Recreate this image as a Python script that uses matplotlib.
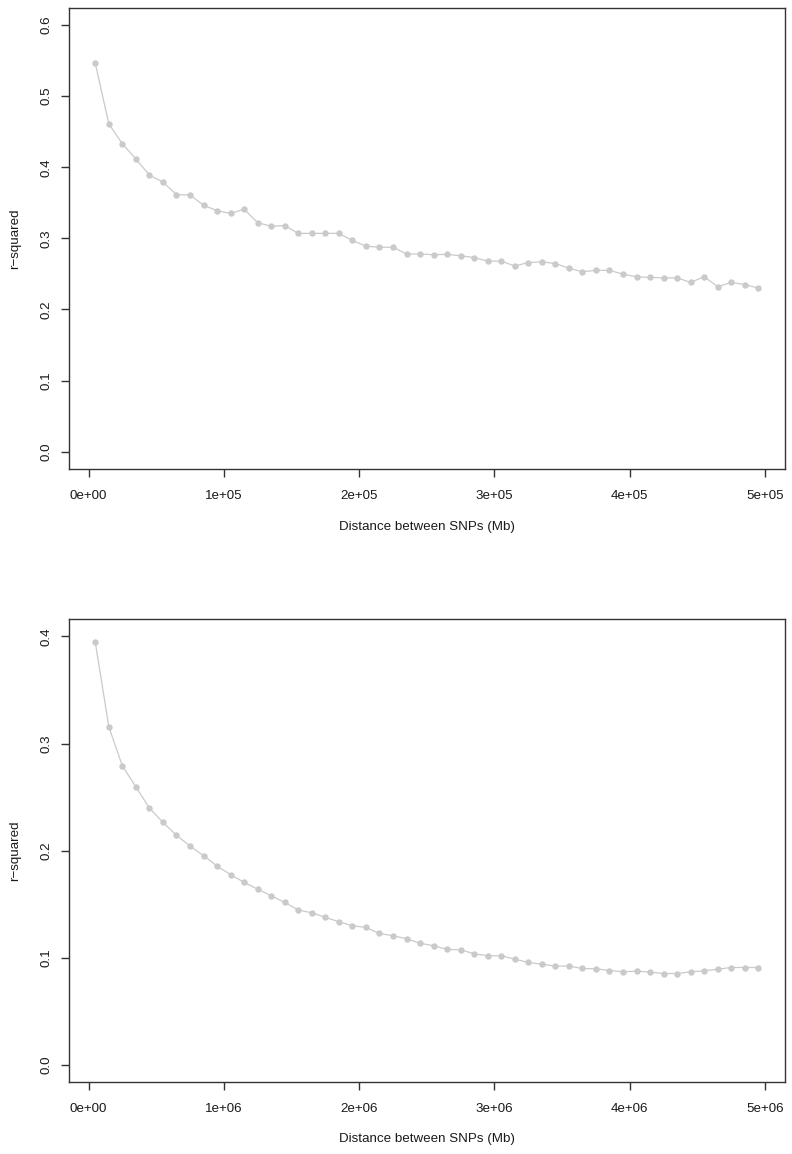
import matplotlib
matplotlib.use("Agg")
import matplotlib.pyplot as plt
import numpy as np

plt.rcParams['font.family'] = ['Liberation Sans', 'DejaVu Sans']

# ---- data ----
dist_top = [5000 + 10000 * i for i in range(50)]
r2_top = [0.546, 0.461, 0.433, 0.4115, 0.389, 0.379, 0.3615, 0.361, 0.3465, 0.339,
          0.335, 0.341, 0.322, 0.317, 0.318, 0.307, 0.307, 0.307, 0.307, 0.297,
          0.289, 0.2875, 0.2875, 0.278, 0.278, 0.277, 0.2775, 0.2755, 0.273, 0.268,
          0.268, 0.261, 0.266, 0.267, 0.2646, 0.258, 0.253, 0.255, 0.255, 0.2496,
          0.246, 0.245, 0.2444, 0.2444, 0.238, 0.246, 0.232, 0.238, 0.235, 0.230]

dist_bot = [50000 + 100000 * i for i in range(50)]
r2_bot = [0.3944, 0.3155, 0.2791, 0.2595, 0.2398, 0.2264, 0.2143, 0.2043, 0.1953, 0.1856,
          0.1776, 0.1704, 0.1640, 0.1579, 0.1517, 0.1445, 0.1420, 0.1377, 0.1336, 0.1299,
          0.1283, 0.1227, 0.1205, 0.1178, 0.1136, 0.1112, 0.1078, 0.1075, 0.1037, 0.1019,
          0.1019, 0.0987, 0.0956, 0.0940, 0.0922, 0.0922, 0.0900, 0.0897, 0.0881, 0.0869,
          0.0875, 0.0866, 0.0853, 0.0853, 0.0869, 0.0878, 0.0893, 0.0909, 0.0909, 0.0909]

xticks_top = [0, 100000, 200000, 300000, 400000, 500000]
xticklabels_top = ["0e+00", "1e+05", "2e+05", "3e+05", "4e+05", "5e+05"]
yticks_top = [0.0, 0.1, 0.2, 0.3, 0.4, 0.5, 0.6]
yticklabels_top = ["0.0", "0.1", "0.2", "0.3", "0.4", "0.5", "0.6"]

xticks_bot = [0, 1000000, 2000000, 3000000, 4000000, 5000000]
xticklabels_bot = ["0e+00", "1e+06", "2e+06", "3e+06", "4e+06", "5e+06"]
yticks_bot = [0.0, 0.1, 0.2, 0.3, 0.4]
yticklabels_bot = ["0.0", "0.1", "0.2", "0.3", "0.4"]

xlabel = "Distance between SNPs (Mb)"
ylabel = "r\u2212squared"

W, H = 792, 1154
fig = plt.figure(figsize=(W / 100, H / 100), dpi=100)

def px_axes(l, t, r, b):
    return fig.add_axes([l / W, 1 - b / H, (r - l) / W, (b - t) / H])

line_col = "#cacaca"
ax_col = "#333333"
txt_col = "#1a1a1a"
fs = 9.6

def style(ax, x, y, xt, xtl, yt, ytl, xlim, ylim):
    ax.plot(x, y, color=line_col, lw=0.9, marker='o', ms=3.6, mfc=line_col, mec=line_col)
    ax.set_xlim(*xlim)
    ax.set_ylim(*ylim)
    ax.set_xticks(xt)
    ax.set_xticklabels(xtl)
    ax.set_yticks(yt)
    ax.set_yticklabels(ytl, rotation=90, va='center')
    for s in ax.spines.values():
        s.set_color(ax_col)
        s.set_linewidth(1.0)
    ax.tick_params(axis='both', direction='out', length=6, width=1.0, color=ax_col,
                   labelsize=fs, labelcolor=txt_col)
    ax.tick_params(axis='x', pad=9)
    ax.tick_params(axis='y', pad=6)
    ax.set_xlabel(xlabel, fontsize=fs, color=txt_col)
    ax.set_ylabel(ylabel, fontsize=fs, color=txt_col)

ax1 = px_axes(68.8, 8, 784.8, 468.7)
style(ax1, dist_top, r2_top, xticks_top, xticklabels_top, yticks_top, yticklabels_top,
      (-14600, 514600), (-0.024, 0.624))
ax1.xaxis.set_label_coords(0.5, -(527 - 468.7) / (468.7 - 8))
ax1.xaxis.label.set_va('center')
ax1.yaxis.set_label_coords(-(68.8 - 15.5) / (784.8 - 68.8), 0.5)
ax1.yaxis.label.set_va('center')

ax2 = px_axes(68.8, 619.3, 784.8, 1082)
style(ax2, dist_bot, r2_bot, xticks_bot, xticklabels_bot, yticks_bot, yticklabels_bot,
      (-146000, 5146000), (-0.016, 0.416))
ax2.xaxis.set_label_coords(0.5, -(1139 - 1082) / (1082 - 619.3))
ax2.xaxis.label.set_va('center')
ax2.yaxis.set_label_coords(-(68.8 - 15.5) / (784.8 - 68.8), 0.5)
ax2.yaxis.label.set_va('center')

fig.savefig("out.png", dpi=100, facecolor='white')
